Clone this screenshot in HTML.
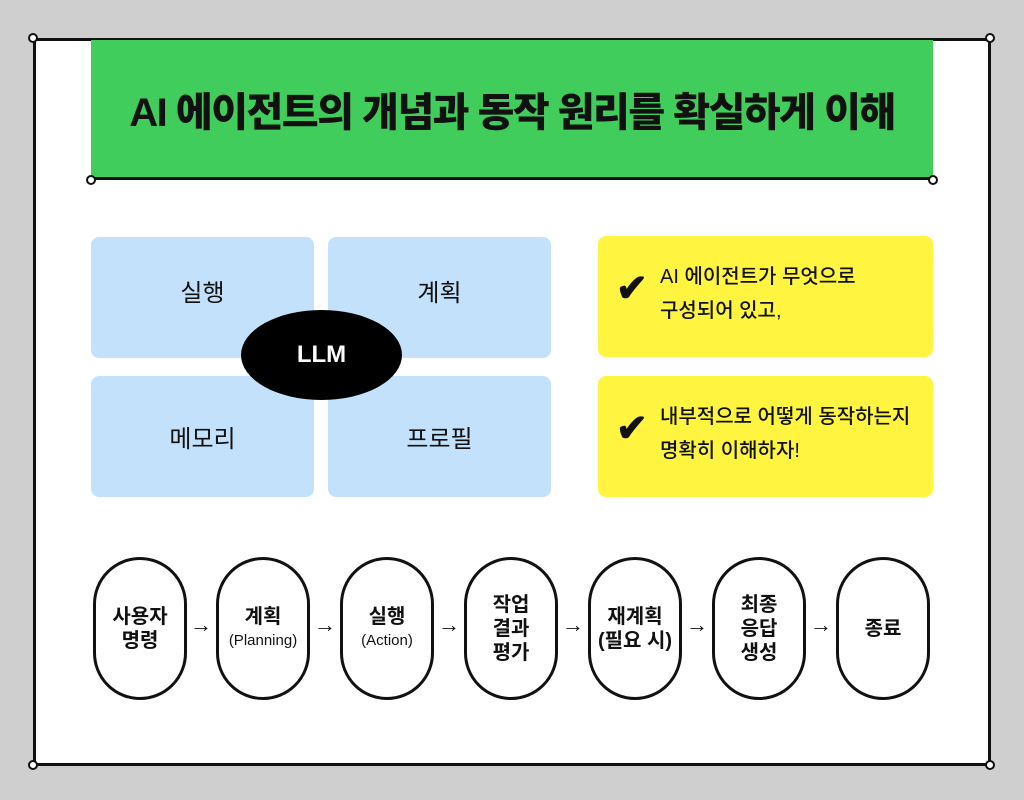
<!DOCTYPE html>
<html><head><meta charset="utf-8"><style>
*{margin:0;padding:0;box-sizing:border-box}
body{width:1024px;height:800px;background:#cfcfcf;position:relative;overflow:hidden;font-family:"Liberation Sans","Noto Sans CJK KR",sans-serif;color:#111}
.abs{position:absolute}
.frame{left:33px;top:38px;width:958px;height:728px;background:#fff;border:3px solid #111}
.h{width:10px;height:10px;border:2px solid #111;border-radius:50%;background:#fff;position:absolute}
.green{left:91px;top:40px;width:842px;height:140px;background:#41cd5b;border-bottom:3px solid #111;display:flex;align-items:center;justify-content:center;font-weight:900;font-size:40px;letter-spacing:-1.5px}
.blue{background:#c3e1fb;border-radius:8px;display:flex;align-items:center;justify-content:center;font-size:24px}
.yel{background:#fff43f;border-radius:8px;font-size:20px;line-height:34px;font-weight:500}
.chk{position:absolute;left:18px;top:36px;font-size:38px;font-weight:900}
.yt{position:absolute;left:62px;top:24px}
.pill{top:557px;width:94px;height:143px;border:3px solid #111;border-radius:47px;background:#fff;display:flex;align-items:center;justify-content:center;text-align:center;font-size:20px;font-weight:bold;line-height:24px}
.pill small{font-size:15px;font-weight:normal;display:block}
.arr{top:612px;font-size:22px;font-weight:bold}
</style></head><body>
<div class="abs frame"></div>
<div class="h" style="left:28px;top:33px"></div>
<div class="h" style="left:985px;top:33px"></div>
<div class="h" style="left:28px;top:760px"></div>
<div class="h" style="left:985px;top:760px"></div>
<div class="abs green">AI 에이전트의 개념과 동작 원리를 확실하게 이해</div>
<div class="h" style="left:86px;top:175px"></div>
<div class="h" style="left:928px;top:175px"></div>

<div class="abs blue" style="left:91px;top:237px;width:223px;height:121px;padding-bottom:14px">실행</div>
<div class="abs blue" style="left:328px;top:237px;width:223px;height:121px;padding-bottom:14px">계획</div>
<div class="abs blue" style="left:91px;top:376px;width:223px;height:121px;padding-top:0">메모리</div>
<div class="abs blue" style="left:328px;top:376px;width:223px;height:121px">프로필</div>
<div class="abs" style="left:241px;top:310px;width:161px;height:90px;border-radius:50%;background:#000;color:#fff;font-weight:bold;font-size:24px;display:flex;align-items:center;justify-content:center">LLM</div>

<div class="abs yel" style="left:598px;top:236px;width:335px;height:121px"><span class="chk">✔</span><div class="yt">AI 에이전트가 무엇으로<br>구성되어 있고,</div></div>
<div class="abs yel" style="left:598px;top:376px;width:335px;height:121px"><span class="chk">✔</span><div class="yt">내부적으로 어떻게 동작하는지<br>명확히 이해하자!</div></div>

<div class="abs pill" style="left:93px"><div>사용자<br>명령</div></div>
<div class="abs pill" style="left:216px"><div>계획<small>(Planning)</small></div></div>
<div class="abs pill" style="left:340px"><div>실행<small>(Action)</small></div></div>
<div class="abs pill" style="left:464px"><div>작업<br>결과<br>평가</div></div>
<div class="abs pill" style="left:588px"><div>재계획<br>(필요 시)</div></div>
<div class="abs pill" style="left:712px"><div>최종<br>응답<br>생성</div></div>
<div class="abs pill" style="left:836px"><div>종료</div></div>
<div class="abs arr" style="left:190px">→</div>
<div class="abs arr" style="left:314px">→</div>
<div class="abs arr" style="left:438px">→</div>
<div class="abs arr" style="left:562px">→</div>
<div class="abs arr" style="left:686px">→</div>
<div class="abs arr" style="left:810px">→</div>
</body></html>
